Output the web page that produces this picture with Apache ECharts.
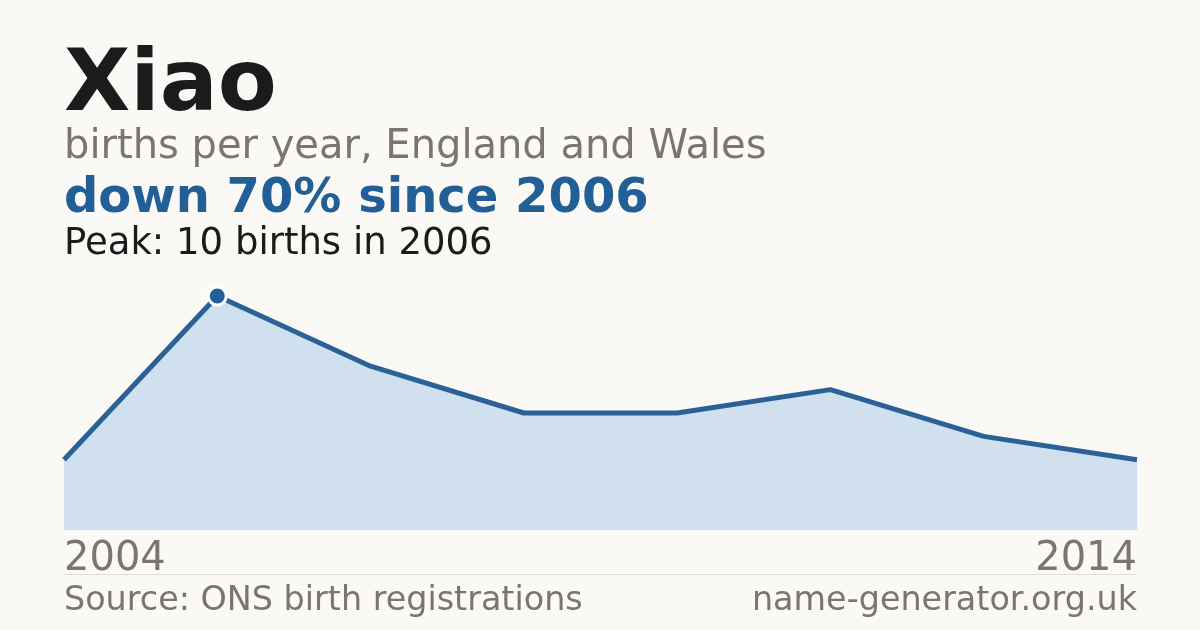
<!DOCTYPE html>
<html>
<head>
<meta charset="utf-8">
<script src="https://cdn.jsdelivr.net/npm/echarts@6/dist/echarts.min.js"></script>
<style>
  html, body { margin: 0; padding: 0; background: #faf9f5; }
  #main { width: 1200px; height: 630px; }
</style>
</head>
<body>
<div id="main"></div>
<script>
// data
var years = ['2004', '2006', '2007', '2008', '2009', '2011', '2013', '2014'];
var births = [3, 10, 7, 5, 5, 6, 4, 3];
var peakIndex = 1;

var chart = echarts.init(document.getElementById('main'), null, { renderer: 'canvas' });
var font = 'DejaVu Sans';

var option = {
  backgroundColor: '#faf9f5',
  animation: false,
  textStyle: { fontFamily: font },
  grid: { left: 64, right: 63, top: 296, bottom: 100 },
  xAxis: {
    type: 'category',
    data: years,
    boundaryGap: false,
    axisLine: { show: false },
    axisTick: { show: false },
    axisLabel: {
      interval: 0,
      margin: 10,
      fontSize: 40,
      color: '#7a766f',
      fontFamily: font,
      alignMinLabel: 'left',
      alignMaxLabel: 'right',
      formatter: function (v, i) {
        return (i === 0 || i === years.length - 1) ? v : '';
      }
    }
  },
  yAxis: {
    type: 'value',
    min: 0,
    max: 10,
    show: false
  },
  series: [{
    type: 'line',
    data: births.map(function (v, i) {
      if (i === peakIndex) {
        return { value: v, symbol: 'circle', symbolSize: 18 };
      }
      return { value: v, symbol: 'none' };
    }),
    lineStyle: { color: '#2a6197', width: 5 },
    itemStyle: { color: '#215f96', borderColor: '#ffffff', borderWidth: 3 },
    areaStyle: { color: '#d0e0ef', opacity: 1 },
    z: 2
  }],
  graphic: [
    { type: 'text', left: 64, top: 45, style: { text: 'Xiao', font: 'bold 86px DejaVu Sans', fill: '#1b1b1b' } },
    { type: 'text', left: 64, top: 128, style: { text: 'births per year, England and Wales', font: '40px DejaVu Sans', fill: '#7a766f' } },
    { type: 'text', left: 64, top: 176, style: { text: 'down 70% since 2006', font: 'bold 48px DejaVu Sans', fill: '#215f96' } },
    { type: 'text', left: 64, top: 226, style: { text: 'Peak: 10 births in 2006', font: '37px DejaVu Sans', fill: '#1b1b1b' } },
    { type: 'rect', left: 64, top: 574, shape: { width: 1073, height: 1 }, style: { fill: '#dddad4' } },
    { type: 'text', left: 64, top: 585, style: { text: 'Source: ONS birth registrations', font: '33.4px DejaVu Sans', fill: '#7a766f' } },
    { type: 'text', right: 63, top: 585, style: { text: 'name-generator.org.uk', font: '33.4px DejaVu Sans', fill: '#7a766f' } }
  ]
};

chart.setOption(option);
</script>
</body>
</html>
